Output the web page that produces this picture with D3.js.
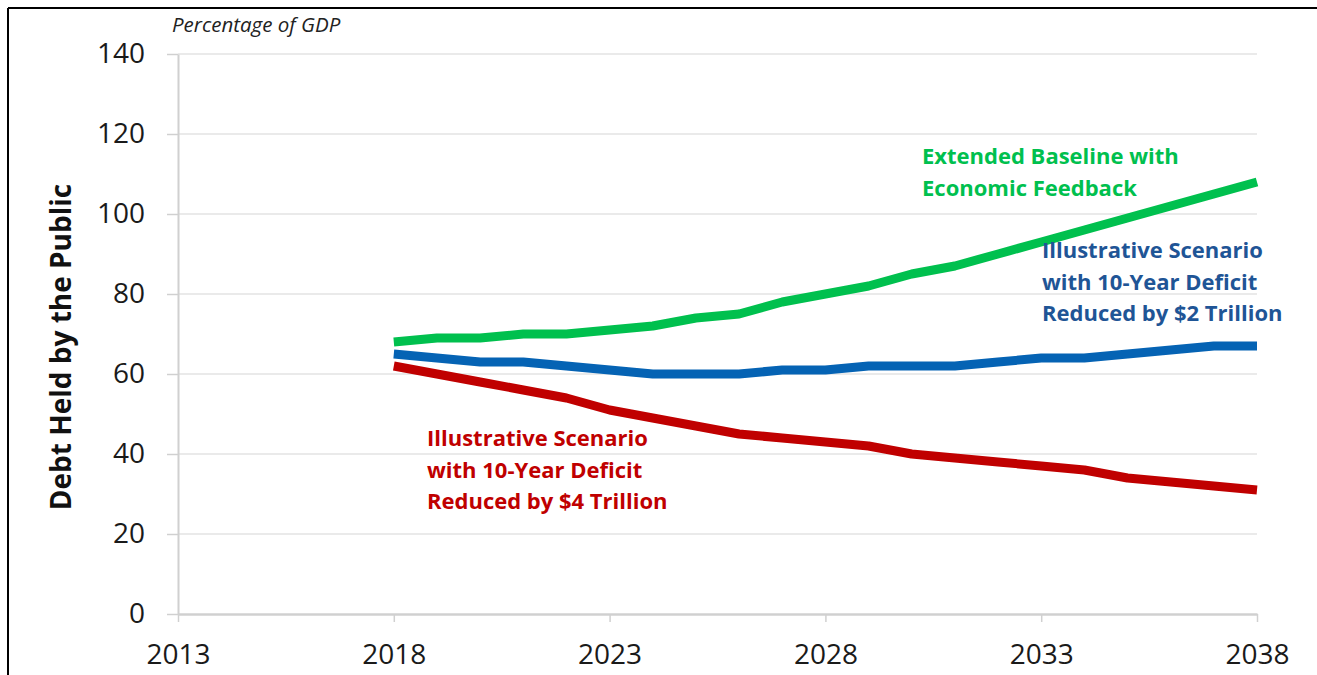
<!DOCTYPE html>
<html><head><meta charset="utf-8">
<script src="https://cdn.jsdelivr.net/npm/d3@7"></script>
<style>body{margin:0;background:#fff}svg{display:block}</style>
</head><body>
<svg id="c" width="1317" height="675"></svg>
<script>
const years = d3.range(2018, 2039);
const baseline = [68,69,69,70,70,71,72,74,75,78,80,82,85,87,90,93,96,99,102,105,108];
const cut2 = [65,64,63,63,62,61,60,60,60,61,61,62,62,62,63,64,64,65,66,67,67];
const cut4 = [62,60,58,56,54,51,49,47,45,44,43,42,40,39,38,37,36,34,33,32,31];
const xTicks = [2013,2018,2023,2028,2033,2038];
const yTicks = [0,20,40,60,80,100,120,140];
const labels = {
  baseline: ["Extended Baseline with","Economic Feedback"],
  cut2: ["Illustrative Scenario","with 10-Year Deficit","Reduced by $2 Trillion"],
  cut4: ["Illustrative Scenario","with 10-Year Deficit","Reduced by $4 Trillion"]
};

const svg = d3.select("#c");
const x = d3.scaleLinear().domain([2013,2038]).range([178,1257]);
const y = d3.scaleLinear().domain([0,140]).range([614,54]);
const font = "'Open Sans', 'Liberation Sans', sans-serif";

// frame
svg.append("line").attr("x1",8).attr("x2",1317).attr("y1",8).attr("y2",8).attr("stroke","#000").attr("stroke-width",2);
svg.append("line").attr("x1",8).attr("x2",8).attr("y1",8).attr("y2",675).attr("stroke","#000").attr("stroke-width",2);

// gridlines
svg.append("g").selectAll("line").data(yTicks.filter(d=>d>0)).join("line")
  .attr("x1",x(2013)).attr("x2",x(2038)).attr("y1",d=>y(d)).attr("y2",d=>y(d))
  .attr("stroke","#e3e3e3").attr("stroke-width",1.5);

// y axis
const ya = svg.append("g").attr("transform",`translate(${x(2013)},0)`)
  .call(d3.axisLeft(y).tickValues(yTicks).tickSize(11).tickPadding(22).tickSizeOuter(0));
ya.select(".domain").attr("stroke","#d0d0d0").attr("stroke-width",2);
ya.selectAll(".tick line").attr("stroke","#d0d0d0").attr("stroke-width",1.5);
ya.selectAll("text").attr("font-family",font).attr("font-size",28).attr("fill","#1a1a1a");

// x axis
const xa = svg.append("g").attr("transform",`translate(0,${y(0)})`)
  .call(d3.axisBottom(x).tickValues(xTicks).tickFormat(d3.format("d")).tickSize(8).tickPadding(22).tickSizeOuter(0));
xa.select(".domain").attr("stroke","#d0d0d0").attr("stroke-width",2.5);
xa.selectAll(".tick line").attr("stroke","#d0d0d0").attr("stroke-width",1.5);
xa.selectAll("text").attr("font-family",font).attr("font-size",28).attr("fill","#1a1a1a");

// y title
svg.append("text").attr("transform","translate(71,347) rotate(-90)")
  .attr("text-anchor","middle").attr("font-family",font).attr("font-weight","bold")
  .attr("font-size",28).attr("fill","#111").text("Debt Held by the Public");

svg.append("text").attr("x",172).attr("y",32).attr("font-family",font).attr("font-style","italic")
  .attr("font-size",20.5).attr("fill","#222").text("Percentage of GDP");

// lines
const line = d3.line().x((d,i)=>x(years[i])).y(d=>y(d));
const series = [
  {v: cut4, c: "#C00000"},
  {v: cut2, c: "#0563B4"},
  {v: baseline, c: "#00C04E"}
];
svg.append("g").selectAll("path").data(series).join("path")
  .attr("d",d=>line(d.v)).attr("fill","none").attr("stroke",d=>d.c)
  .attr("stroke-width",9).attr("stroke-linejoin","round");

// labels
function label(lines, x0, y0, color){
  const t = svg.append("text").attr("font-family",font).attr("font-weight","bold")
    .attr("font-size",22).attr("fill",color);
  lines.forEach((s,i)=>t.append("tspan").attr("x",x0).attr("y",y0+i*31.5).text(s));
}
label(labels.baseline, 922, 164, "#00C04E");
label(labels.cut2, 1042, 258, "#1F5596");
label(labels.cut4, 427, 446, "#C00000");
</script>
</body></html>
